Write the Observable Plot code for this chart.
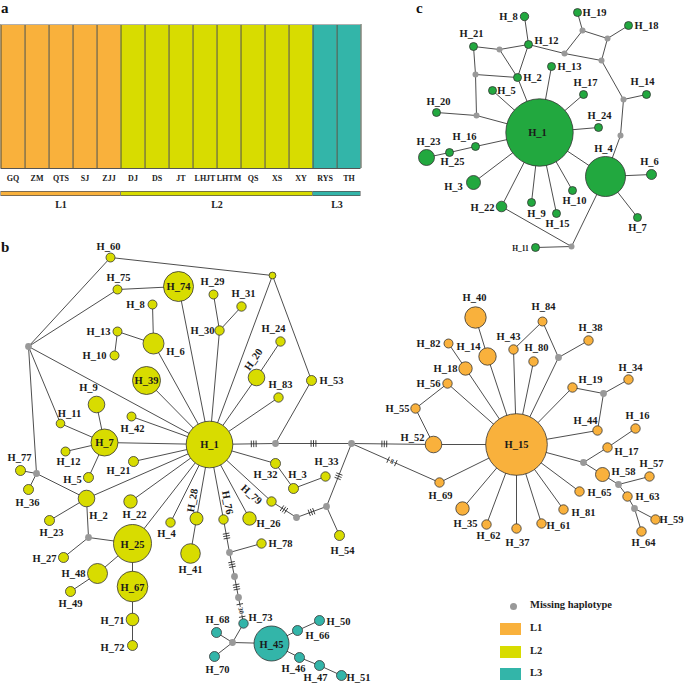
<!DOCTYPE html>
<html>
<head>
<meta charset="utf-8">
<script src="https://cdn.jsdelivr.net/npm/d3@7"></script>
<script src="https://cdn.jsdelivr.net/npm/@observablehq/plot@0.6"></script>
<style>
  body { margin: 0; background: #fff; }
  #wrap { position: relative; width: 685px; height: 683px; overflow: hidden; font-family: "Liberation Serif", serif; }
  #wrap > svg { position: absolute; left: 0; top: 0; }
  .letter { position: absolute; font-weight: bold; font-size: 15px; line-height: 1; color: #111; }
  .leg { position: absolute; font-weight: bold; font-size: 10.5px; color: #222; line-height: 1; }
</style>
</head>
<body>
<div id="wrap">
  <div class="letter" style="left:1px;top:1px">a</div>
  <div class="letter" style="left:1px;top:240px">b</div>
  <div class="letter" style="left:416px;top:1px">c</div>
  <div id="legend"></div>
</div>
<script>
// ---------- Panel a: STRUCTURE-like assignment ----------
const populations = ["GQ","ZM","QTS","SJ","ZJJ","DJ","DS","JT","LHJT","LHTM","QS","XS","XY","RYS","TH"];
const popLineage  = ["L1","L1","L1","L1","L1","L2","L2","L2","L2","L2","L2","L2","L2","L3","L3"];
const membership  = [1,1,1,1,1,1,1,1,1,1,1,1,1,1,1];
const lineages    = ["L1","L2","L3"];
const lineageColor = {L1: "#F9B13C", L2: "#D8DC00", L3: "#33B5A9", M: "#999999", C: "#22A83F"};

// ---------- Panel b: haplotype network (name, lineage, x, y, radius) ----------
const bNodes = [
  ["H_1","L2",209,444,23.3],["H_74","L2",178,286,15],["H_39","L2",146,380,14],["H_7","L2",104,442,13.5],
  ["H_25","L2",132,543,19],["H_67","L2",132,586,15.3],["H_6","L2",153,343,10.5],["H_9","L2",96,404,8.3],
  ["H_2","L2",86,498,8.3],["H_48","L2",97,573,10],["H_41","L2",190,553,9.8],["H_20","L2",256,377,8.3],
  ["H_22","L2",130,501,6.7],["H_26","L2",249,518,6.7],["H_28","L2",196,518,6.5],["H_71","L2",132,619,6.3],
  ["H_60","L2",110,257,4.5],["H_75","L2",117,289,4.5],["H_29","L2",213,294,4.5],["H_31","L2",241,306,4.7],
  ["H_8","L2",152,304,4.5],["H_13","L2",117,331,4.5],["H_10","L2",114,355,4.5],["H_30","L2",219,330,4.7],
  ["H_11","L2",60,423,4.3],["H_42","L2",131,416,4.5],["H_12","L2",65,451,4.5],["H_77","L2",20,470,5],
  ["H_21","L2",133,461,5],["H_5","L2",88,477,5],["H_36","L2",28,489,5],["H_23","L2",49,520,5],
  ["H_27","L2",63,557,5],["H_49","L2",70,591,5],["H_72","L2",132,645,5],["H_4","L2",170,522,4.7],
  ["H_76","L2",223,519,4.7],["H_79","L2",271,501,4.7],["H_32","L2",275,463,5],["H_3","L2",293,488,5],
  ["H_33","L2",325,476,4.7],["H_54","L2",339,535,5],["H_78","L2",261,543,4.7],["H_24","L2",280,341,4.7],
  ["H_83","L2",278,397,4.7],["H_53","L2",311,380,5],["J1","L2",272,275,3.4],
  ["H_45","L3",271,643,17.5],["H_73","L3",243,623,4.7],["H_68","L3",216,632,5],["H_70","L3",214,656,5],
  ["H_66","L3",297,630,5],["H_50","L3",319,620,5],["H_46","L3",299,657,5],["H_47","L3",319,665,5],["H_51","L3",341,675,5],
  ["H_15","L1",516,444,30.8],["H_40","L1",475,317,10.7],["H_14","L1",487,356,8.7],["H_52","L1",433,444,8.3],
  ["H_18","L1",465,368,6.7],["H_58","L1",602,474,7],["H_35","L1",462,508,6.7],
  ["H_84","L1",542,321,4.5],["H_38","L1",588,340,4.7],["H_82","L1",448,343,4.5],["H_43","L1",513,349,4.7],
  ["H_80","L1",533,361,4.7],["H_56","L1",447,383,4.7],["H_55","L1",415,408,4.7],["H_19","L1",572,387,4.7],
  ["H_34","L1",628,379,4.7],["H_44","L1",597,430,4.7],["H_16","L1",635,428,4.7],["H_17","L1",607,447,4.7],
  ["H_57","L1",649,476,4.7],["H_69","L1",439,482,4.7],["H_65","L1",579,491,4.7],["H_63","L1",627,496,4.7],
  ["H_59","L1",655,519,4.7],["H_64","L1",641,531,4.7],["H_62","L1",486,524,4.7],["H_37","L1",516,528,4.7],
  ["H_61","L1",541,523,4.7],["H_81","L1",563,509,4.7],
  ["m1","M",28,346,3.4],["m2","M",36,473,3.4],["m3","M",88,537,3.4],["ma","M",275,443,3.4],["mb","M",351,443,3.4],
  ["mc","M",296,517,3.4],["md","M",326,506,3.4],["me","M",229,552,3.4],["mf","M",234,576,3.4],["mg","M",238,597,3.4],
  ["mh","M",232,642,3.4],["mi","M",558,357,3.4],["mj","M",603,393,3.4],["mk","M",583,462,3.4],["ml","M",618,484,3.4],
  ["mm","M",634,508,3.4]
];
const bEdges = [
  ["m1","H_60"],["m1","H_75"],["m1","H_11"],["m1","H_1"],["m1","m2"],["H_60","J1"],["J1","H_1"],["J1","H_53"],
  ["H_53","ma"],["H_75","H_74"],["H_74","H_1"],["H_29","H_30"],["H_31","H_30"],["H_30","H_1"],["H_8","H_6"],
  ["H_13","H_6"],["H_13","H_10"],["H_6","H_1"],["H_39","H_1"],["H_24","H_20"],["H_20","H_1"],["H_83","H_1"],
  ["H_9","H_7"],["H_11","H_7"],["H_12","H_7"],["H_7","H_1"],["H_7","H_5"],["H_42","H_1"],["H_21","H_1"],
  ["m2","H_77"],["m2","H_36"],["m2","H_2"],["H_2","H_1"],["H_2","H_23"],["H_2","m3"],["m3","H_27"],["m3","H_25"],
  ["H_25","H_1"],["H_25","H_48"],["H_48","H_49"],["H_25","H_67"],["H_67","H_71"],["H_71","H_72"],["H_22","H_1"],
  ["H_4","H_1"],["H_28","H_1"],["H_28","H_41"],["H_76","H_1"],["H_26","H_1"],["H_79","H_1"],["H_32","H_1"],
  ["H_32","H_3"],["H_3","H_33"],["H_1","ma"],["ma","mb"],["mb","H_52"],["mb","H_69"],["H_79","mc"],["mc","md"],
  ["md","H_54"],["md","mb"],["H_76","me"],["me","H_78"],["me","mf"],["mf","mg"],["mg","H_73"],["H_73","mh"],
  ["mh","H_68"],["mh","H_70"],["mh","H_45"],["H_45","H_66"],["H_66","H_50"],["H_45","H_46"],["H_46","H_47"],["H_47","H_51"],
  ["H_52","H_15"],["H_52","H_55"],["H_55","H_56"],["H_56","H_15"],["H_82","H_18"],["H_18","H_15"],["H_40","H_14"],
  ["H_14","H_15"],["H_43","H_15"],["H_84","H_43"],["H_80","H_15"],["H_84","mi"],["mi","H_38"],["mi","H_15"],
  ["H_19","H_15"],["H_19","mj"],["mj","H_34"],["mj","H_44"],["H_44","H_15"],["H_15","mk"],["mk","H_17"],["H_17","H_16"],
  ["mk","H_58"],["H_58","ml"],["ml","H_57"],["ml","H_63"],["H_63","mm"],["mm","H_59"],["mm","H_64"],
  ["H_15","H_65"],["H_15","H_81"],["H_15","H_61"],["H_15","H_37"],["H_15","H_62"],["H_15","H_35"],["H_15","H_69"]
];
// mutation hatch marks: from, to, position along edge, count, number label
const bMutations = [
  ["H_1","ma",0.67,3,""],["ma","mb",0.5,3,""],["mb","H_52",0.4,3,""],["mb","H_69",0.46,2,"8"],
  ["H_79","mc",0.5,3,""],["mc","md",0.5,3,""],["md","mb",0.48,3,""],["H_76","me",0.5,3,""],
  ["me","mf",0.5,3,""],["mf","mg",0.5,3,""],["mg","H_73",0.5,2,"30"]
];
// labels: name, x, y, rotation
const bLabels = [
  ["H_60",108,246,0],["H_75",118,277,0],["H_74",178,286,0],["H_29",212,281,0],["H_31",243,293,0],["H_8",135,304,0],
  ["H_13",98,331,0],["H_10",94,355,0],["H_6",175,351,0],["H_30",202,330,0],["H_39",146,380,0],["H_9",88,387,0],
  ["H_11",69,413,0],["H_42",132,428,0],["H_7",104,442,0],["H_1",209,444,0],["H_12",68,461,0],["H_77",19,457,0],
  ["H_36",27,502,0],["H_5",72,479,0],["H_21",118,470,0],["H_2",98,515,0],["H_22",134,514,0],["H_23",51,532,0],
  ["H_27",44,558,0],["H_25",132,544,0],["H_48",73,573,0],["H_49",70,603,0],["H_67",132,587,0],["H_71",112,620,0],
  ["H_72",112,647,0],["H_4",166,533,0],["H_28",192,500,-80],["H_41",190,569,0],["H_76",227,502,79],["H_79",251,494,42],
  ["H_26",268,523,0],["H_32",265,474,0],["H_3",297,474,0],["H_33",326,461,0],["H_54",342,550,0],["H_78",280,543,0],
  ["H_68",217,619,0],["H_70",217,669,0],["H_73",260,617,0],["H_45",271,644,0],["H_66",317,635,0],["H_50",338,621,0],
  ["H_46",293,668,0],["H_47",315,677,0],["H_51",358,677,0],["H_24",273,328,0],["H_20",253,359,-55],["H_83",280,384,0],
  ["H_53",331,380,0],["H_55",397,408,0],["H_40",474,297,0],["H_84",543,306,0],["H_38",590,327,0],["H_82",428,343,0],
  ["H_14",468,346,0],["H_43",508,336,0],["H_80",536,347,0],["H_18",445,368,0],["H_56",428,383,0],["H_19",590,379,0],
  ["H_34",630,367,0],["H_44",585,420,0],["H_16",637,415,0],["H_52",412,437,0],["H_15",516,444,0],["H_17",626,451,0],
  ["H_58",623,471,0],["H_57",651,463,0],["H_69",440,495,0],["H_65",599,492,0],["H_63",647,496,0],["H_59",671,519,0],
  ["H_64",643,542,0],["H_35",465,523,0],["H_62",488,535,0],["H_37",517,542,0],["H_61",558,525,0],["H_81",583,512,0]
];

// ---------- Panel c: haplotype network ----------
const cNodes = [
  ["H_1","C",539,132,33.7],["H_4","C",605,176,20],["H_23","C",426,157,8],["H_3","C",473,182,7],["H_6","C",651,174,5],
  ["H_22","C",501,206,5.3],["H_8","C",524,16,4.2],["H_19","C",577,12,4],["H_18","C",628,25,4],["H_21","C",473,46,4],
  ["H_12","C",528,44,4],["H_13","C",551,66,4],["H_2","C",517,77,4],["H_5","C",492,90,4],["H_17","C",583,94,4],
  ["H_14","C",646,94,4],["H_20","C",436,112,4],["H_24","C",598,127,4],["H_16","C",475,146,4],["H_25","C",449,152,4],
  ["H_10","C",572,190,4],["H_9","C",531,202,4],["H_15","C",556,213,4],["H_7","C",637,217,4],["H_11","C",535,247,4],
  ["n1","M",582,30,3],["n2","M",607,38,3],["n3","M",499,49,3],["n4","M",564,53,3],["n5","M",601,60,3],
  ["n6","M",475,74,3],["n7","M",623,99,3],["n8","M",476,115,3],["n9","M",620,135,3],["n10","M",571,246,3]
];
const cEdges = [
  ["H_8","H_12"],["H_21","n3"],["n3","H_12"],["n3","H_2"],["H_12","H_2"],["H_12","n4"],["n4","n1"],["n1","H_19"],
  ["n1","n2"],["n2","H_18"],["n2","n5"],["n4","n5"],["n5","n7"],["n7","H_14"],["n7","n9"],["n9","H_4"],
  ["H_21","n6"],["n6","H_2"],["n6","n8"],["n8","H_20"],["n8","H_1"],["H_2","H_1"],["H_13","H_1"],["H_5","H_1"],
  ["H_17","H_1"],["H_24","H_1"],["H_16","H_1"],["H_16","H_25"],["H_25","H_23"],["H_3","H_1"],["H_22","H_1"],
  ["H_9","H_1"],["H_15","H_1"],["H_10","H_1"],["H_4","H_1"],["H_4","H_6"],["H_4","H_7"],["H_4","n10"],
  ["H_22","n10"],["H_11","n10"]
];
const cLabels = [
  ["H_8",508,16],["H_19",594,12],["H_18",646,25],["H_21",471,33],["H_12",546,40],["H_13",569,66],["H_2",532,77],
  ["H_5",506,90],["H_17",585,82],["H_14",642,81],["H_20",438,101],["H_24",599,115],["H_1",537,132],["H_23",428,141],
  ["H_16",464,136],["H_25",452,161],["H_4",603,148],["H_6",649,161],["H_3",453,186],["H_10",574,200],["H_22",482,207],
  ["H_9",536,213],["H_15",557,223],["H_7",637,227]
];
const cSmallLabels = [["H_11",520,248]];

// ---------- build ----------
const font = "Liberation Serif";
const wrap = document.getElementById("wrap");

const popData = populations.map((p, i) => ({name: p, i, lineage: popLineage[i], q: membership[i]}));
const linData = lineages.map(l => {
  const idx = popData.filter(d => d.lineage === l).map(d => d.i);
  return {name: l, start: d3.min(idx), end: d3.max(idx) + 1};
});

const chartA = Plot.plot({
  width: 362, height: 215,
  marginTop: 24, marginBottom: 47, marginLeft: 0.5, marginRight: 1.5,
  x: {domain: [0, populations.length], axis: null},
  y: {domain: [0, 1], axis: null},
  style: {background: "transparent", overflow: "visible", fontFamily: font},
  marks: [
    Plot.rect(popData, {x1: d => d.i, x2: d => d.i + 1, y1: 0, y2: d => d.q, fill: d => lineageColor[d.lineage]}),
    Plot.ruleX(d3.range(populations.length + 1), {y1: 0, y2: 1, stroke: "#4a4a3a", strokeWidth: 1}),
    Plot.ruleY([1], {stroke: "#b0b0b0", strokeWidth: 1.2}),
    Plot.ruleY([0], {stroke: "#555", strokeWidth: 1}),
    Plot.text(popData, {x: d => d.i + 0.5, y: 0, dy: 10, text: "name", fontSize: 8, fontWeight: "bold", fill: "#222"}),
    Plot.ruleY(linData, {x1: "start", x2: "end", y: 0, dy: 25, stroke: "#555", strokeWidth: 5}),
    Plot.ruleY(linData, {x1: d => d.start + 0.02, x2: d => d.end - 0.02, y: 0, dy: 25, stroke: d => lineageColor[d.name], strokeWidth: 3.4}),
    Plot.text(linData, {x: d => (d.start + d.end) / 2, y: 0, dy: 36, text: "name", fontSize: 10, fontWeight: "bold", fill: "#222"})
  ]
});

function toNodes(arr, prefix) {
  return arr.map(([name, g, x, y, r]) => ({id: prefix + name, name, g, x, y, r}));
}
const nodes = [...toNodes(bNodes, "b:"), ...toNodes(cNodes, "c:")];
const byId = new Map(nodes.map(d => [d.id, d]));
const edges = [
  ...bEdges.map(([a, b]) => ({a: byId.get("b:" + a), b: byId.get("b:" + b)})),
  ...cEdges.map(([a, b]) => ({a: byId.get("c:" + a), b: byId.get("c:" + b)}))
];

// hatch marks computed along each mutation edge
const hatches = [], hatchText = [];
for (const [a, b, t, n, lab] of bMutations) {
  const A = byId.get("b:" + a), B = byId.get("b:" + b);
  const L = Math.hypot(B.x - A.x, B.y - A.y);
  const ux = (B.x - A.x) / L, uy = (B.y - A.y) / L, px = -uy, py = ux;
  const cx = A.x + t * (B.x - A.x), cy = A.y + t * (B.y - A.y);
  const offs = lab ? [-(lab.length * 2.2 + 2), lab.length * 2.2 + 2] : d3.range(n).map(k => (k - (n - 1) / 2) * 2.4);
  for (const o of offs) {
    const hx = cx + o * ux, hy = cy + o * uy;
    hatches.push({x1: hx - 3.3 * px, y1: hy - 3.3 * py, x2: hx + 3.3 * px, y2: hy + 3.3 * py});
  }
  if (lab) {
    let ang = Math.atan2(uy, ux) * 180 / Math.PI;
    if (ang > 90) ang -= 180; if (ang < -90) ang += 180;
    hatchText.push({x: cx, y: cy, text: lab, rotate: ang});
  }
}

const labels = [
  ...bLabels.map(([t, x, y, r]) => ({t, x, y, r})),
  ...cLabels.map(([t, x, y]) => ({t, x, y, r: 0}))
];
const small = cSmallLabels.map(([t, x, y]) => ({t, x, y}));

const chartB = Plot.plot({
  width: 685, height: 683, margin: 0,
  x: {domain: [0, 685], range: [0, 685], axis: null},
  y: {domain: [0, 683], range: [0, 683], axis: null},
  r: {type: "identity"},
  color: {type: "identity"},
  style: {background: "transparent", overflow: "visible", fontFamily: font},
  marks: [
    Plot.link(edges, {x1: d => d.a.x, y1: d => d.a.y, x2: d => d.b.x, y2: d => d.b.y, stroke: "#3a3a3a", strokeWidth: 0.9}),
    Plot.link(hatches, {x1: "x1", y1: "y1", x2: "x2", y2: "y2", stroke: "#2a2a2a", strokeWidth: 0.9}),
    Plot.text(hatchText, {x: "x", y: "y", text: "text", rotate: "rotate", fontSize: 6.5, fontWeight: "bold", fill: "#222",
      stroke: "white", strokeWidth: 2, paintOrder: "stroke"}),
    Plot.dot(nodes, {x: "x", y: "y", r: "r", fill: d => lineageColor[d.g], stroke: d => d.g === "M" ? "none" : "#333", strokeWidth: 0.8}),
    Plot.text(labels, {x: "x", y: "y", text: "t", rotate: "r", fontSize: 10.5, fontWeight: "bold", fill: "#1a1a1a"}),
    Plot.text(small, {x: "x", y: "y", text: "t", fontSize: 7.5, fontWeight: "bold", fill: "#1a1a1a"})
  ]
});

wrap.insertBefore(chartB, wrap.firstChild);
wrap.insertBefore(chartA, wrap.firstChild);

// legend (HTML)
const legend = document.getElementById("legend");
const legItems = [
  {label: "Missing haplotype", color: lineageColor.M, dot: true},
  ...lineages.map(l => ({label: l, color: lineageColor[l], dot: false}))
];
legItems.forEach((it, i) => {
  const yc = i === 0 ? 606 : 629 + (i - 1) * 22.5;
  const sw = document.createElement("div");
  sw.style.position = "absolute";
  if (it.dot) {
    Object.assign(sw.style, {left: "509.5px", top: (yc - 3.5) + "px", width: "7px", height: "7px", borderRadius: "50%", background: it.color});
  } else {
    Object.assign(sw.style, {left: "500px", top: (yc - 6) + "px", width: "21px", height: "12px", background: it.color,
      boxShadow: "0 0 0 1px rgba(255,255,255,0.8)"});
  }
  legend.appendChild(sw);
  const tx = document.createElement("div");
  tx.className = "leg";
  tx.textContent = it.label;
  tx.style.left = "530px";
  tx.style.top = (yc - 6) + "px";
  legend.appendChild(tx);
});
</script>
</body>
</html>
